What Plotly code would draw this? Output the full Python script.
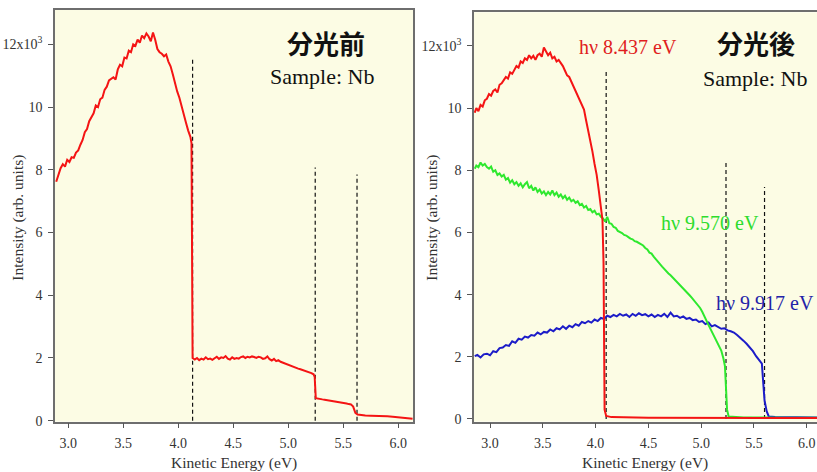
import plotly.graph_objects as go

# ---------------- data ----------------
# Left panel: before monochromator (分光前)
before_x = [2.89, 2.91, 2.93, 2.95, 2.97, 2.99, 3.01, 3.03, 3.05, 3.07, 3.09, 3.11, 3.13, 3.15, 3.17, 3.19,
            3.21, 3.23, 3.25, 3.27, 3.29, 3.31, 3.33, 3.35, 3.37, 3.39, 3.41, 3.43, 3.45, 3.47, 3.49, 3.51,
            3.53, 3.55, 3.57, 3.59, 3.61, 3.63, 3.65, 3.67, 3.69, 3.71, 3.73, 3.75, 3.77, 3.79, 3.81, 3.83,
            3.85, 3.87, 3.89, 3.91, 3.93, 3.95, 3.97, 3.99, 4.01, 4.03, 4.05, 4.07, 4.09, 4.11, 4.12, 4.125,
            4.13, 4.15, 4.17, 4.19, 4.21, 4.23, 4.25, 4.27, 4.29, 4.31, 4.33, 4.35, 4.37, 4.39, 4.41, 4.43,
            4.45, 4.47, 4.49, 4.51, 4.53, 4.55, 4.57, 4.59, 4.61, 4.63, 4.65, 4.67, 4.69, 4.71, 4.73, 4.75,
            4.77, 4.79, 4.81, 4.83, 4.85, 4.87, 4.89, 4.91, 4.93, 4.95, 4.97, 4.99, 5.01, 5.03, 5.05, 5.07,
            5.09, 5.11, 5.13, 5.15, 5.17, 5.19, 5.21, 5.23, 5.24, 5.25, 5.27, 5.29, 5.31, 5.33, 5.35, 5.37,
            5.39, 5.41, 5.43, 5.45, 5.47, 5.49, 5.51, 5.53, 5.55, 5.57, 5.59, 5.61, 5.63, 5.66, 5.70, 5.75,
            5.80, 5.85, 5.90, 5.95, 6.00, 6.05, 6.10, 6.13]
before_y = [7.62, 7.85, 8.05, 8.18, 8.10, 8.32, 8.25, 8.40, 8.38, 8.55, 8.62, 8.80, 8.95, 9.20, 9.30, 9.55,
            9.70, 9.80, 10.05, 10.00, 10.25, 10.30, 10.55, 10.65, 10.85, 10.90, 10.95, 10.88, 11.20, 11.35, 11.30, 11.58,
            11.55, 11.80, 11.75, 12.00, 11.95, 12.15, 12.05, 12.28, 12.20, 12.35, 12.25, 12.10, 12.38, 12.15, 11.85, 11.75,
            11.70, 11.62, 11.68, 11.45, 11.30, 11.05, 10.75, 10.50, 10.30, 10.00, 9.75, 9.50, 9.25, 9.05, 8.85, 5.00,
            2.00, 1.95, 2.00, 1.93, 1.98, 1.95, 2.02, 1.96, 1.98, 1.94, 2.00, 2.04, 1.97, 2.02, 2.00, 2.06,
            1.98, 1.95, 2.02, 1.97, 2.00, 1.98, 2.03, 2.05, 2.00, 2.04, 2.02, 2.05, 2.03, 2.00, 2.04, 2.02,
            1.97, 1.99, 2.05, 1.96, 1.92, 1.97, 1.90, 1.93, 1.88, 1.85, 1.82, 1.80, 1.76, 1.74, 1.72, 1.68,
            1.66, 1.64, 1.62, 1.59, 1.57, 1.55, 1.52, 1.48, 1.40, 0.72, 0.70, 0.69, 0.68, 0.67, 0.66, 0.64,
            0.63, 0.62, 0.61, 0.60, 0.58, 0.58, 0.56, 0.55, 0.53, 0.52, 0.45, 0.25, 0.20, 0.18, 0.17, 0.16,
            0.16, 0.15, 0.14, 0.13, 0.11, 0.09, 0.07, 0.06]

# Right panel: after monochromator (分光後)
red_x = [2.855, 2.87, 2.89, 2.91, 2.93, 2.95, 2.97, 2.99, 3.01, 3.03, 3.05, 3.07, 3.09, 3.11, 3.13, 3.15,
         3.17, 3.19, 3.21, 3.23, 3.25, 3.27, 3.29, 3.31, 3.33, 3.35, 3.37, 3.39, 3.41, 3.43, 3.45, 3.47,
         3.49, 3.51, 3.53, 3.55, 3.57, 3.59, 3.61, 3.63, 3.65, 3.67, 3.69, 3.71, 3.73, 3.75, 3.77, 3.79,
         3.81, 3.83, 3.85, 3.87, 3.89, 3.91, 3.93, 3.95, 3.97, 3.99, 4.01, 4.03, 4.05, 4.065, 4.075, 4.08,
         4.085, 4.10, 4.15, 4.50, 5.00, 5.50, 6.10]
red_y = [9.85, 10.00, 9.90, 10.10, 10.05, 10.25, 10.30, 10.45, 10.40, 10.55, 10.60, 10.50, 10.75, 10.80, 10.90, 11.00,
         10.95, 11.15, 11.10, 11.25, 11.35, 11.30, 11.50, 11.45, 11.60, 11.55, 11.70, 11.60, 11.68, 11.55, 11.70, 11.75,
         11.65, 11.95, 11.80, 11.70, 11.78, 11.60, 11.65, 11.50, 11.55, 11.45, 11.35, 11.20, 11.05, 11.00, 10.85, 10.70,
         10.50, 10.40, 10.20, 10.05, 9.95, 9.60, 9.30, 9.00, 8.60, 8.20, 7.85, 7.35, 6.80, 6.40, 5.00, 2.00,
         0.30, 0.10, 0.06, 0.04, 0.03, 0.03, 0.03]

green_x = [2.855, 2.87, 2.89, 2.91, 2.93, 2.95, 2.97, 2.99, 3.01, 3.03, 3.05, 3.07, 3.09, 3.11, 3.13, 3.15,
           3.17, 3.19, 3.21, 3.23, 3.25, 3.27, 3.29, 3.31, 3.33, 3.35, 3.37, 3.39, 3.41, 3.43, 3.45, 3.47,
           3.49, 3.51, 3.53, 3.55, 3.57, 3.59, 3.61, 3.63, 3.65, 3.67, 3.69, 3.71, 3.73, 3.75, 3.77, 3.79,
           3.81, 3.83, 3.85, 3.87, 3.89, 3.91, 3.93, 3.95, 3.97, 3.99, 4.01, 4.03, 4.05, 4.07, 4.09, 4.11,
           4.13, 4.15, 4.17, 4.19, 4.21, 4.23, 4.25, 4.27, 4.29, 4.31, 4.33, 4.35, 4.37, 4.39, 4.41, 4.43,
           4.45, 4.47, 4.49, 4.51, 4.53, 4.55, 4.57, 4.59, 4.61, 4.63, 4.65, 4.67, 4.69, 4.71, 4.73, 4.75,
           4.77, 4.79, 4.81, 4.83, 4.85, 4.87, 4.89, 4.91, 4.93, 4.95, 4.97, 4.99, 5.01, 5.03, 5.05, 5.07,
           5.09, 5.11, 5.13, 5.15, 5.17, 5.19, 5.21, 5.225, 5.235, 5.245, 5.26, 5.40, 5.80, 6.10]
green_y = [8.05, 8.15, 8.10, 8.25, 8.15, 8.20, 8.10, 8.05, 8.12, 7.95, 8.00, 7.85, 7.90, 7.80, 7.85, 7.70,
           7.75, 7.60, 7.68, 7.55, 7.62, 7.50, 7.58, 7.45, 7.55, 7.62, 7.42, 7.50, 7.35, 7.45, 7.30, 7.38,
           7.25, 7.32, 7.20, 7.30, 7.22, 7.35, 7.20, 7.28, 7.15, 7.22, 7.10, 7.18, 7.05, 7.12, 7.00, 7.05,
           6.95, 7.00, 6.88, 6.92, 6.80, 6.85, 6.72, 6.75, 6.65, 6.70, 6.58, 6.60, 6.50, 6.45, 6.35, 6.50,
           6.30, 6.28, 6.18, 6.15, 6.05, 6.02, 5.98, 5.92, 5.90, 5.85, 5.80, 5.78, 5.72, 5.70, 5.65, 5.60,
           5.58, 5.50, 5.45, 5.35, 5.32, 5.22, 5.15, 5.05, 4.98, 4.90, 4.82, 4.75, 4.68, 4.62, 4.55, 4.50,
           4.42, 4.35, 4.28, 4.20, 4.12, 4.05, 3.98, 3.90, 3.82, 3.75, 3.65, 3.57, 3.45, 3.32, 3.18, 3.02,
           2.88, 2.75, 2.60, 2.48, 2.35, 2.20, 1.95, 1.70, 1.00, 0.30, 0.08, 0.05, 0.04, 0.04]

blue_x = [2.855, 2.88, 2.91, 2.94, 2.97, 3.00, 3.03, 3.06, 3.09, 3.12, 3.15, 3.18, 3.21, 3.24, 3.27, 3.30,
          3.33, 3.36, 3.39, 3.42, 3.45, 3.48, 3.51, 3.54, 3.57, 3.60, 3.63, 3.66, 3.69, 3.72, 3.75, 3.78,
          3.81, 3.84, 3.87, 3.90, 3.93, 3.96, 3.99, 4.02, 4.05, 4.08, 4.11, 4.14, 4.17, 4.20, 4.23, 4.26,
          4.29, 4.32, 4.35, 4.38, 4.41, 4.44, 4.47, 4.50, 4.53, 4.56, 4.59, 4.62, 4.65, 4.68, 4.71, 4.74,
          4.77, 4.80, 4.83, 4.86, 4.89, 4.92, 4.95, 4.98, 5.01, 5.04, 5.07, 5.10, 5.13, 5.16, 5.19, 5.22,
          5.25, 5.28, 5.31, 5.34, 5.37, 5.40, 5.43, 5.46, 5.49, 5.52, 5.55, 5.575, 5.585, 5.60, 5.62, 5.64,
          5.70, 6.10]
blue_y = [2.02, 2.06, 1.98, 2.08, 2.10, 2.05, 2.18, 2.15, 2.28, 2.30, 2.38, 2.35, 2.50, 2.45, 2.58, 2.55,
          2.65, 2.62, 2.70, 2.68, 2.78, 2.72, 2.80, 2.78, 2.88, 2.82, 2.92, 2.88, 2.98, 2.90, 3.00, 2.95,
          3.05, 3.00, 3.12, 3.08, 3.15, 3.10, 3.20, 3.15, 3.25, 3.22, 3.32, 3.28, 3.35, 3.30, 3.38, 3.32,
          3.36, 3.28, 3.38, 3.32, 3.40, 3.34, 3.37, 3.30, 3.36, 3.28, 3.35, 3.30, 3.38, 3.28, 3.42, 3.30,
          3.32, 3.25, 3.30, 3.22, 3.25, 3.18, 3.20, 3.12, 3.15, 3.05, 3.10, 2.98, 3.02, 2.95, 2.90, 2.92,
          2.85, 2.82, 2.78, 2.70, 2.62, 2.52, 2.42, 2.30, 2.18, 2.02, 1.90, 1.78, 1.30, 0.60, 0.25, 0.08,
          0.06, 0.05]

# Dashed cutoff markers
before_cut_x = [4.13, 5.245, 5.625]
before_cut_top = [11.58, 8.07, 7.85]
after_cut_x = [4.10, 5.235, 5.60]
after_cut_top = [11.16, 8.30, 7.46]

y_tickvals = [0, 2, 4, 6, 8, 10, 12]
y_ticktext = ["0", "2", "4", "6", "8", "10", "12x10<sup>3</sup>"]
x_tickvals = [3.0, 3.5, 4.0, 4.5, 5.0, 5.5, 6.0]
x_ticktext = ["3.0", "3.5", "4.0", "4.5", "5.0", "5.5", "6.0"]

# ---------------- figure ----------------
W, H = 817, 472
SERIF = "Liberation Serif, Times New Roman, serif"
CJK = "Noto Sans CJK JP, Noto Sans CJK SC, sans-serif"
RED, GREEN, BLUE = "#F41414", "#2EE82E", "#1C1CC8"

fig = go.Figure()


def add_cuts(xs, tops, xa, ya):
    for cx, top in zip(xs, tops):
        fig.add_trace(go.Scatter(x=[cx, cx], y=[0, top], mode="lines", xaxis=xa, yaxis=ya,
                                 line=dict(color="#111111", width=1.2, dash="4px,3px"),
                                 showlegend=False, hoverinfo="skip"))


add_cuts(before_cut_x, before_cut_top, "x", "y")
fig.add_trace(go.Scatter(x=before_x, y=before_y, mode="lines", xaxis="x", yaxis="y",
                         line=dict(color=RED, width=2), showlegend=False))

add_cuts(after_cut_x, after_cut_top, "x2", "y2")
fig.add_trace(go.Scatter(x=blue_x, y=blue_y, mode="lines", xaxis="x2", yaxis="y2",
                         line=dict(color=BLUE, width=2), showlegend=False))
fig.add_trace(go.Scatter(x=green_x, y=green_y, mode="lines", xaxis="x2", yaxis="y2",
                         line=dict(color=GREEN, width=2), showlegend=False))
fig.add_trace(go.Scatter(x=red_x, y=red_y, mode="lines", xaxis="x2", yaxis="y2",
                         line=dict(color=RED, width=2), showlegend=False))

axis_common = dict(showgrid=False, zeroline=False, showline=True, linecolor="#6e6e6e", linewidth=1.5,
                   ticks="outside", ticklen=5, tickwidth=1, tickcolor="#555555", ticklabelstandoff=3,
                   tickfont=dict(family=SERIF, size=14, color="#333333"))

fig.update_layout(
    width=W, height=H,
    margin=dict(l=0, r=0, t=0, b=0),
    paper_bgcolor="white",
    plot_bgcolor="#FCFCE4",
    showlegend=False,
    xaxis=dict(domain=[55 / W, 413 / W], range=[2.879, 6.134], tickvals=x_tickvals, ticktext=x_ticktext,
               mirror=True, anchor="y", **axis_common),
    yaxis=dict(domain=[(H - 428) / H, (H - 10) / H], range=[-0.03, 13.1], tickvals=y_tickvals,
               ticktext=y_ticktext, mirror=True, anchor="x", **axis_common),
    xaxis2=dict(domain=[474 / W, 1.0], range=[2.848, 6.097], tickvals=x_tickvals, ticktext=x_ticktext,
                mirror=True, anchor="y2", **axis_common),
    yaxis2=dict(domain=[(H - 428) / H, (H - 12.5) / H], range=[-0.086, 13.08], tickvals=y_tickvals,
                ticktext=y_ticktext, mirror=False, anchor="x2", **axis_common),
)


def px_ann(text, cx, cy, size, color="#111111", family=SERIF, angle=0):
    fig.add_annotation(text=text, x=cx / W, y=1 - cy / H, xref="paper", yref="paper",
                       xanchor="center", yanchor="middle", showarrow=False, textangle=angle,
                       font=dict(family=family, size=size, color=color))


# panel labels
px_ann("<b>分光前</b>", 326, 43, 26, family=CJK)
px_ann("Sample: Nb", 322, 78, 22)
px_ann("<b>分光後</b>", 756, 43, 26, family=CJK)
px_ann("Sample: Nb", 755, 80, 22)

# photon energy labels
px_ann("hν 8.437 eV", 628, 48, 20, color="#E01E1E")
px_ann("hν 9.570 eV", 710, 226, 20, color="#2EDC2E")
px_ann("hν 9.917 eV", 765, 308, 20, color="#2323A8")

# axis titles
px_ann("Intensity (arb. units)", 18, 221, 15.5, color="#333333", angle=-90)
px_ann("Intensity (arb. units)", 432, 221, 15.5, color="#333333", angle=-90)
px_ann("Kinetic Energy (eV)", 234, 470, 15.5, color="#333333")
px_ann("Kinetic Energy (eV)", 645, 470, 15.5, color="#333333")

# remove the browser's default 8px body margin so the figure sits at the page origin
fig.write_html("out.html",
               config={"displayModeBar": False},
               post_script="document.body.style.margin='0';document.body.style.padding='0';"
                           "document.body.style.overflow='hidden';")
